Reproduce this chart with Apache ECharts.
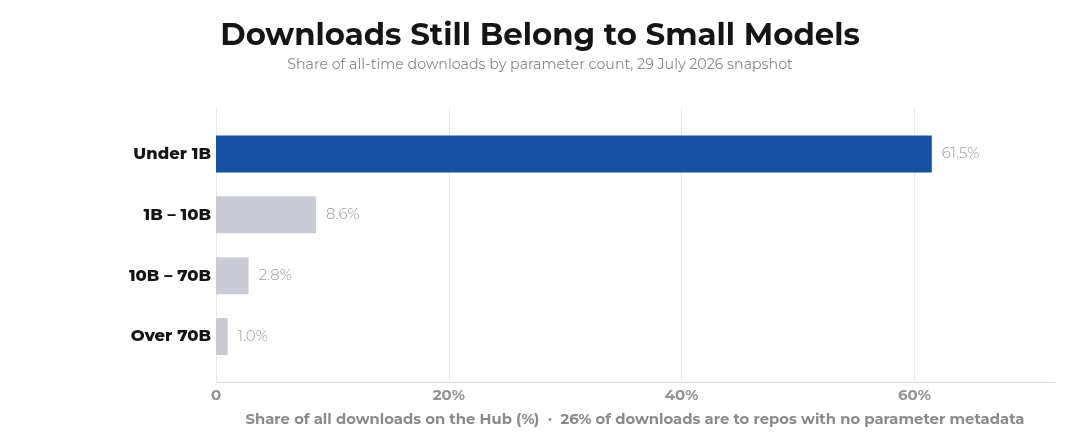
<!DOCTYPE html>
<html>
<head>
<meta charset="utf-8">
<script src="https://cdn.jsdelivr.net/npm/echarts@6/dist/echarts.min.js"></script>
<style>
  html, body { margin: 0; padding: 0; background: #fff; }
  #chart { width: 1080px; height: 442px; }
</style>
</head>
<body>
<div id="chart"></div>
<script>
// data
const categories = ['Under 1B', '1B – 10B', '10B – 70B', 'Over 70B'];
const shares = [61.5, 8.6, 2.8, 1.0];
const xTicks = [0, 20, 40, 60];

const FONT = 'Montserrat, Inter, "Noto Sans", sans-serif';
const HIGHLIGHT = '#1551a0';
const MUTED = '#c9ccd4';

const chart = echarts.init(document.getElementById('chart'));

const option = {
  backgroundColor: '#fff',
  textStyle: { fontFamily: FONT },
  title: {
    text: 'Downloads Still Belong to Small Models',
    subtext: 'Share of all-time downloads by parameter count, 29 July 2026 snapshot',
    left: 'center',
    top: 15,
    itemGap: 7,
    textStyle: { fontFamily: FONT, fontSize: 30.8, fontWeight: 'bold', color: '#151515' },
    subtextStyle: { fontFamily: FONT, fontSize: 14.2, color: '#8a8a8a' }
  },
  grid: [
    // grid for gridlines + axis
    { left: 216, right: 26, top: 108, bottom: 60 },
    // grid for bars
    { left: 216, right: 26, top: 123.5, bottom: 75 }
  ],
  xAxis: [
    {
      gridIndex: 0,
      type: 'value',
      min: 0,
      max: 72,
      interval: 20,
      name: 'Share of all downloads on the Hub (%)  ·  26% of downloads are to repos with no parameter metadata',
      nameLocation: 'middle',
      nameGap: 30,
      nameTextStyle: { fontFamily: FONT, fontSize: 14.8, fontWeight: 'bold', color: '#8a8a8a' },
      axisLine: { show: true, lineStyle: { color: '#dcdcdc', width: 1 } },
      axisTick: { show: false },
      splitLine: { show: true, showMaxLine: false, lineStyle: { color: '#e8e8e8', width: 1 } },
      axisLabel: {
        fontFamily: FONT,
        fontSize: 15,
        fontWeight: 'bold',
        color: '#939393',
        margin: 6,
        showMaxLabel: false,
        formatter: v => (xTicks.indexOf(v) < 0 ? '' : (v === 0 ? '0' : v + '%'))
      }
    },
    {
      gridIndex: 1,
      type: 'value',
      min: 0,
      max: 72,
      show: false,
      splitLine: { show: false }
    }
  ],
  yAxis: [
    { gridIndex: 0, type: 'value', show: false, splitLine: { show: false } },
    {
      gridIndex: 1,
      type: 'category',
      inverse: true,
      data: categories,
      axisLine: { show: false },
      axisTick: { show: false },
      axisLabel: {
        fontFamily: FONT,
        fontSize: 16.4,
        fontWeight: 800,
        color: '#151515',
        margin: 5
      }
    }
  ],
  series: [
    {
      type: 'bar',
      xAxisIndex: 1,
      yAxisIndex: 1,
      barWidth: 37,
      data: shares.map((v, i) => ({
        value: v,
        itemStyle: { color: i === 0 ? HIGHLIGHT : MUTED }
      })),
      label: {
        show: true,
        position: 'right',
        distance: 10,
        fontFamily: FONT,
        fontSize: 15,
        fontWeight: 300,
        color: '#9c9c9c',
        formatter: p => p.value.toFixed(1) + '%'
      },
      silent: true
    }
  ]
};

chart.setOption(option);
</script>
</body>
</html>
